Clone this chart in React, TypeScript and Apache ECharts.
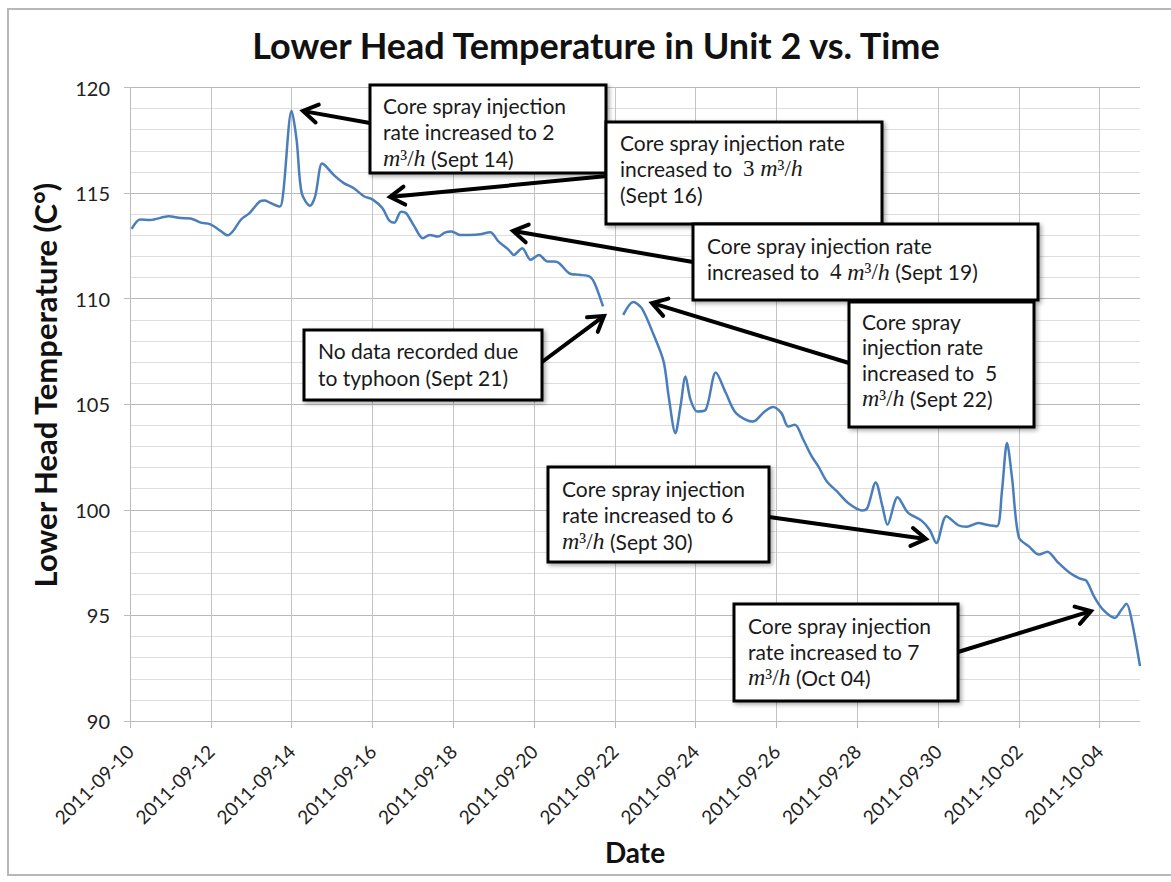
import React, { useEffect, useRef } from "react";
import * as echarts from "echarts";

// ---- data ----
const times: string[] = [
  "2011-09-10 01:00", "2011-09-10 06:00", "2011-09-10 12:00", "2011-09-10 23:00",
  "2011-09-11 06:00", "2011-09-11 12:00", "2011-09-11 18:00", "2011-09-11 23:30",
  "2011-09-12 06:00", "2011-09-12 10:00", "2011-09-12 13:00", "2011-09-12 18:00", "2011-09-12 23:00",
  "2011-09-13 05:00", "2011-09-13 08:00", "2011-09-13 11:00", "2011-09-13 17:00", "2011-09-13 19:00",
  "2011-09-14 00:00", "2011-09-14 03:00", "2011-09-14 06:00", "2011-09-14 11:00", "2011-09-14 14:00",
  "2011-09-14 18:00", "2011-09-14 20:00",
  "2011-09-15 01:00", "2011-09-15 07:00", "2011-09-15 13:00", "2011-09-15 19:00",
  "2011-09-16 00:00", "2011-09-16 06:00", "2011-09-16 10:00", "2011-09-16 13:00", "2011-09-16 17:00", "2011-09-16 20:00",
  "2011-09-17 01:00", "2011-09-17 06:00", "2011-09-17 10:00", "2011-09-17 15:00", "2011-09-17 19:00", "2011-09-17 23:00",
  "2011-09-18 04:00", "2011-09-18 10:00", "2011-09-18 16:00", "2011-09-18 22:00",
  "2011-09-19 03:00", "2011-09-19 09:00", "2011-09-19 12:00", "2011-09-19 17:00", "2011-09-19 22:00",
  "2011-09-20 03:00", "2011-09-20 08:00", "2011-09-20 12:00", "2011-09-20 15:00", "2011-09-20 21:00",
  "2011-09-21 03:00", "2011-09-21 09:00", "2011-09-21 12:00", "2011-09-21 17:00", "2011-09-21 23:00",
  "2011-09-22 05:00", "2011-09-22 11:00", "2011-09-22 16:00", "2011-09-22 23:00",
  "2011-09-23 05:00", "2011-09-23 08:00", "2011-09-23 12:00", "2011-09-23 15:00", "2011-09-23 18:00", "2011-09-23 21:00",
  "2011-09-24 01:00", "2011-09-24 06:00", "2011-09-24 12:00", "2011-09-24 18:00",
  "2011-09-25 00:00", "2011-09-25 10:00", "2011-09-25 17:00", "2011-09-25 22:00",
  "2011-09-26 03:00", "2011-09-26 07:00", "2011-09-26 11:00", "2011-09-26 16:00", "2011-09-26 21:00",
  "2011-09-27 01:00", "2011-09-27 06:00", "2011-09-27 12:00", "2011-09-27 19:00",
  "2011-09-28 03:00", "2011-09-28 06:00", "2011-09-28 11:00", "2011-09-28 15:00", "2011-09-28 18:00",
  "2011-09-29 00:00", "2011-09-29 06:00", "2011-09-29 14:00", "2011-09-29 19:00", "2011-09-29 23:00",
  "2011-09-30 05:00", "2011-09-30 12:00", "2011-09-30 17:00",
  "2011-10-01 00:00", "2011-10-01 05:00", "2011-10-01 11:00", "2011-10-01 14:00", "2011-10-01 17:00", "2011-10-01 20:00",
  "2011-10-02 00:00", "2011-10-02 06:00", "2011-10-02 12:00", "2011-10-02 17:00", "2011-10-02 23:00",
  "2011-10-03 06:00", "2011-10-03 12:00", "2011-10-03 16:00", "2011-10-03 21:00",
  "2011-10-04 02:00", "2011-10-04 09:00", "2011-10-04 13:00", "2011-10-04 16:00", "2011-10-04 19:00",
  "2011-10-05 00:00",
];

const temps: (number | null)[] = [
  113.3, 113.75, 113.73, 113.9,
  113.82, 113.8, 113.6, 113.53,
  113.2, 113.0, 113.18, 113.75, 114.05,
  114.6, 114.65, 114.55, 114.36, 115.0,
  118.9, 117.5, 115.0, 114.4, 114.85,
  116.4, 116.3,
  115.86, 115.47, 115.23, 114.85,
  114.7, 114.28, 113.7, 113.6, 114.12, 114.05,
  113.41, 112.86, 113.02, 112.94, 113.13, 113.18,
  113.02, 113.02, 113.05, 113.15,
  112.7, 112.31, 112.07, 112.39, 111.84,
  112.07, 111.76, 111.76, 111.68, 111.2,
  111.13, 111.05, 110.73, 109.63, null,
  109.23, 109.84, 109.55, 108.3,
  107.02, 105.37, 103.63, 104.89, 106.31, 105.21,
  104.66, 104.74, 106.5, 105.53,
  104.58, 104.18, 104.66, 104.87,
  104.58, 103.95, 104.03, 103.32, 102.53,
  102.05, 101.34, 100.87, 100.3,
  99.97, 100.08, 101.3, 100.16, 99.29,
  100.6, 99.88, 99.5, 99.06, 98.43,
  99.7, 99.27, 99.2,
  99.38, 99.29, 99.22, 100.9, 103.16, 101.5,
  98.7, 98.27, 97.88, 98.02, 97.53,
  97.03, 96.75, 96.65, 95.85,
  95.27, 94.88, 95.27, 95.55, 94.8,
  92.6,
];

const startDate = "2011-09-10";
const endDate = "2011-10-05";
const yTicks = [90, 95, 100, 105, 110, 115, 120];

const titleText = "Lower Head Temperature in Unit 2 vs. Time";
const yName = "Lower Head Temperature (C°)";
const xName = "Date";

// annotation texts (rich tokens: mi = math italic, mu = math upright)
const noteTexts: string[][] = [
  ["Core spray injection", "rate increased to 2", "{mi|m}{mu|³/}{mi|h} (Sept 14)"],
  ["Core spray injection rate", "increased to  {mu|3 }{mi|m}{mu|³/}{mi|h}", "(Sept 16)"],
  ["Core spray injection rate", "increased to  {mu|4 }{mi|m}{mu|³/}{mi|h} (Sept 19)"],
  ["Core spray", "injection rate", "increased to  5", "{mi|m}{mu|³/}{mi|h} (Sept 22)"],
  ["No data recorded due", "to typhoon (Sept 21)"],
  ["Core spray injection", "rate increased to 6", "{mi|m}{mu|³/}{mi|h} (Sept 30)"],
  ["Core spray injection", "rate increased to 7", "{mi|m}{mu|³/}{mi|h} (Oct 04)"],
];

// ---- layout of annotation boxes (pixels) ----
const noteLayout = [
  { box: [370, 85, 236, 88], tx: 383, ty: 105, lh: 26.5, arrow: [370, 123, 303, 111] },
  { box: [606, 122, 276, 102], tx: 620, ty: 142, lh: 26, arrow: [607, 176, 390, 197] },
  { box: [693, 224, 345, 76], tx: 707, ty: 245, lh: 26.5, arrow: [693, 262, 513, 231] },
  { box: [849, 302, 185, 125], tx: 862, ty: 321, lh: 25.7, arrow: [849, 363, 652, 303] },
  { box: [304, 330, 238, 70], tx: 318, ty: 350, lh: 27, arrow: [542, 362, 604, 316] },
  { box: [548, 467, 221, 95], tx: 562, ty: 488, lh: 26.5, arrow: [769, 517, 926, 539] },
  { box: [734, 604, 224, 97], tx: 748, ty: 625, lh: 26, arrow: [958, 652, 1091, 611] },
];

const DAY = 86400000;
function toMs(s: string): number {
  const [d, t] = s.split(" ");
  const [Y, M, D] = d.split("-").map(Number);
  const [h, mi] = (t || "00:00").split(":").map(Number);
  return Date.UTC(Y, M - 1, D, h, mi);
}
const T0 = toMs(startDate + " 00:00");
const dayOf = (s: string) => (toMs(s) - T0) / DAY;

function arrowGraphics(a: number[]) {
  const [sx, sy, tx, ty] = a;
  const dx = tx - sx;
  const dy = ty - sy;
  const len = Math.sqrt(dx * dx + dy * dy);
  const ux = dx / len;
  const uy = dy / len;
  const L = 17;
  const ang = (32 * Math.PI) / 180;
  const rot = (x: number, y: number, a2: number) => [x * Math.cos(a2) - y * Math.sin(a2), x * Math.sin(a2) + y * Math.cos(a2)];
  const [r1x, r1y] = rot(ux, uy, ang);
  const [r2x, r2y] = rot(ux, uy, -ang);
  const p1 = [tx - L * r1x, ty - L * r1y];
  const p2 = [tx - L * r2x, ty - L * r2y];
  const stroke = { stroke: "#000", lineWidth: 4, lineCap: "round", lineJoin: "miter" };
  return [
    { type: "line", z: 20, shape: { x1: sx, y1: sy, x2: tx - ux * 2, y2: ty - uy * 2 }, style: { ...stroke } },
    { type: "polyline", z: 20, shape: { points: [p1, [tx, ty], p2] }, style: { ...stroke, fill: null } },
  ];
}

export default function App() {
  const ref = useRef<HTMLDivElement>(null);
  useEffect(() => {
    document.body.style.margin = "0";
    const chart = echarts.init(ref.current!, null, { renderer: "svg" });
    const seriesData = times.map((t, i) => [dayOf(t), temps[i]]);
    const xMax = dayOf(endDate + " 00:00");

    const richMath = {
      mi: { fontFamily: "Liberation Serif", fontStyle: "italic", fontSize: 24, fill: "#1a1a1a", color: "#1a1a1a" },
      mu: { fontFamily: "Liberation Serif", fontSize: 23, fill: "#1a1a1a", color: "#1a1a1a" },
    };

    const graphics: any[] = [];
    graphics.push({
      type: "rect",
      z: 0,
      silent: true,
      shape: { x: 8, y: 9, width: 1200, height: 866 },
      style: { fill: null, stroke: "#b8b8b8", lineWidth: 2 },
    });
    graphics.push({
      type: "text",
      z: 10,
      x: 45,
      y: 385,
      rotation: Math.PI / 2,
      style: {
        text: yName,
        fontFamily: "Lato",
        fontWeight: "bold",
        fontSize: 31,
        fill: "#111",
        textAlign: "center",
        textVerticalAlign: "middle",
      },
    });
    noteLayout.forEach((n, i) => {
      const [bx, by, bw, bh] = n.box;
      graphics.push({
        type: "rect",
        z: 30,
        shape: { x: bx, y: by, width: bw, height: bh },
        style: {
          fill: "#fff",
          stroke: "#000",
          lineWidth: 3,
          shadowBlur: 4,
          shadowOffsetX: 2,
          shadowOffsetY: 2,
          shadowColor: "rgba(0,0,0,0.35)",
        },
      });
      noteTexts[i].forEach((line, j) => {
        graphics.push({
          type: "text",
          z: 31,
          x: n.tx,
          y: n.ty + j * n.lh,
          style: {
            text: line,
            fontFamily: "Lato",
            fontSize: 21,
            fill: "#1a1a1a",
            textAlign: "left",
            textVerticalAlign: "middle",
            rich: richMath,
          },
        });
      });
      arrowGraphics(n.arrow).forEach((g) => graphics.push(g));
    });

    chart.setOption({
      animation: false,
      backgroundColor: "#fff",
      title: {
        text: titleText,
        left: 591,
        textAlign: "center",
        top: 22,
        textStyle: { fontFamily: "Lato", fontWeight: "bold", fontSize: 36, color: "#111" },
      },
      grid: { left: 130, right: 31, top: 87.5, bottom: 161 },
      xAxis: {
        type: "value",
        min: 0,
        max: xMax,
        interval: 2,
        name: xName,
        nameLocation: "middle",
        nameGap: 117,
        nameTextStyle: { fontFamily: "Lato", fontWeight: "bold", fontSize: 28, color: "#111" },
        axisLine: { show: true, lineStyle: { color: "#bcbcbc", width: 1 } },
        axisTick: { show: true, length: 7, lineStyle: { color: "#bcbcbc" } },
        axisLabel: {
          rotate: 45,
          margin: 27,
          fontFamily: "Lato",
          fontSize: 19,
          color: "#222",
          showMaxLabel: false,
          formatter: (v: number) => {
            if (Math.round(v) % 2 !== 0) return "";
            return new Date(T0 + v * DAY).toISOString().slice(0, 10);
          },
        },
        splitLine: { show: true, showMaxLine: false, lineStyle: { color: "#c4c4c4", width: 1 } },
      },
      yAxis: {
        type: "value",
        min: yTicks[0],
        max: yTicks[yTicks.length - 1],
        interval: yTicks[1] - yTicks[0],
        axisLine: { show: true, lineStyle: { color: "#bcbcbc", width: 1 } },
        axisTick: { show: true, length: 6, lineStyle: { color: "#bcbcbc" } },
        axisLabel: { fontFamily: "Lato", fontSize: 20, color: "#222", margin: 20 },
        splitLine: { show: true, lineStyle: { color: "#b8b8b8", width: 1 } },
        minorTick: { show: false, splitNumber: 5 },
        minorSplitLine: { show: true, lineStyle: { color: "#dedede", width: 1 } },
      },
      series: [
        {
          type: "line",
          data: seriesData,
          showSymbol: false,
          smooth: 0.3,
          connectNulls: false,
          lineStyle: { color: "#4a7ebb", width: 2.5 },
          itemStyle: { color: "#4a7ebb" },
          z: 5,
        },
      ],
      graphic: graphics,
    });
    return () => chart.dispose();
  }, []);
  return <div ref={ref} style={{ width: 1171, height: 882 }} />;
}
